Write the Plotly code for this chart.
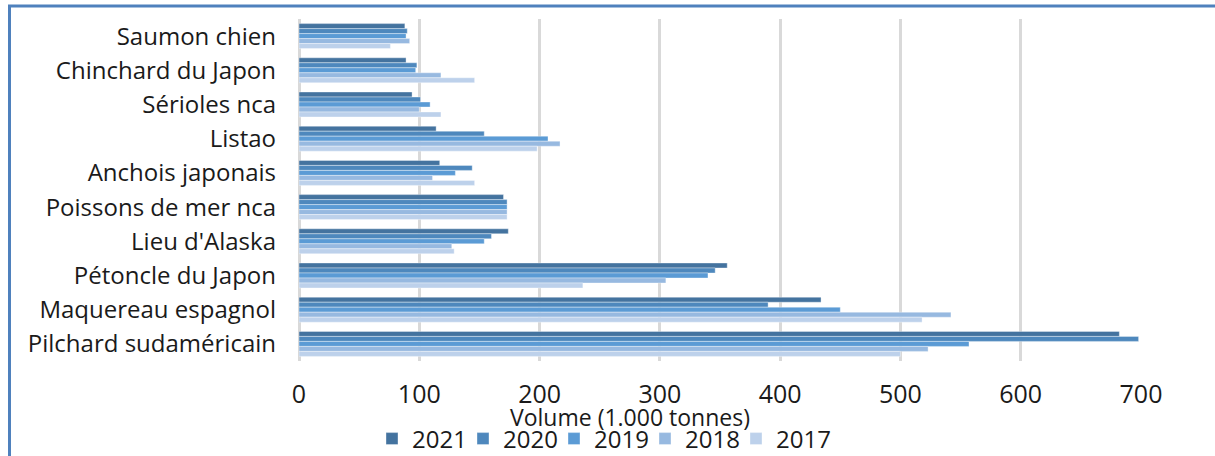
import plotly.graph_objects as go

categories = ["Saumon chien", "Chinchard du Japon", "Sérioles nca", "Listao",
              "Anchois japonais", "Poissons de mer nca", "Lieu d'Alaska",
              "Pétoncle du Japon", "Maquereau espagnol", "Pilchard sudaméricain"]

years = ["2021", "2020", "2019", "2018", "2017"]

v2021 = [88, 89, 94, 114, 117, 170, 174, 356, 434, 682]
v2020 = [90, 98, 101, 154, 144, 173, 160, 346, 390, 698]
v2019 = [89, 97, 109, 207, 130, 173, 154, 340, 450, 557]
v2018 = [92, 118, 100, 217, 111, 173, 127, 305, 542, 523]
v2017 = [76, 146, 118, 198, 146, 173, 129, 236, 518, 500]

series = [v2021, v2020, v2019, v2018, v2017]
colors = ["#44739f", "#4e88bd", "#5b9bd5", "#97b9e0", "#bdd1eb"]

x_ticks = [0, 100, 200, 300, 400, 500, 600, 700]

W, H = 1215, 456
L, R, T, B = 299, 74, 19, 95
pw, ph = W - L - R, H - T - B

def px_x(p):
    return (p - L) / pw

def px_y(p):
    return (H - B - p) / ph

FONT = "Open Sans"

legend_names = ["legend", "legend2", "legend3", "legend4", "legend5"]
legend_left_px = [372, 463, 554, 645, 736]

fig = go.Figure()
for name, vals, col, lg in zip(years, series, colors, legend_names):
    fig.add_trace(go.Bar(
        y=categories, x=vals, name=name, orientation="h", legend=lg,
        marker=dict(color=col, line=dict(color="rgba(255,255,255,0.6)", width=0.6)),
    ))

legend_layout = {}
for lg, lx in zip(legend_names, legend_left_px):
    legend_layout[lg] = dict(orientation="h", x=px_x(lx), y=px_y(439),
                             xanchor="left", yanchor="middle",
                             font=dict(size=24, family=FONT), itemwidth=30,
                             bgcolor="rgba(0,0,0,0)")

fig.update_layout(
    width=W, height=H,
    margin=dict(l=L, r=R, t=T, b=B, autoexpand=False),
    paper_bgcolor="white", plot_bgcolor="white",
    barmode="group", bargap=0.27, bargroupgap=0,
    font=dict(family=FONT, color="#1a1a1a", size=24),
    showlegend=True,
    xaxis=dict(range=[0, 700], tickvals=x_ticks, ticktext=[str(t) for t in x_ticks],
               showgrid=True, gridcolor="#d9d9d9", gridwidth=2.5,
               zeroline=True, zerolinecolor="#d9d9d9", zerolinewidth=2.5,
               showline=False, ticks="", ticklabelstandoff=16,
               tickfont=dict(size=25, family=FONT)),
    yaxis=dict(autorange="reversed", showgrid=False, showline=False, ticks="",
               ticklabelstandoff=22, tickfont=dict(size=24, family=FONT)),
    annotations=[dict(text="Volume (1.000 tonnes)", xref="paper", yref="paper",
                      x=px_x(630), y=px_y(417), xanchor="center", yanchor="middle",
                      showarrow=False, font=dict(size=23, family=FONT))],
    shapes=[
        dict(type="line", xref="paper", yref="paper", x0=px_x(8), x1=px_x(1215),
             y0=px_y(6), y1=px_y(6), line=dict(color="#4f81bd", width=3)),
        dict(type="line", xref="paper", yref="paper", x0=px_x(9.5), x1=px_x(9.5),
             y0=px_y(5), y1=px_y(456), line=dict(color="#4f81bd", width=3)),
    ],
    **legend_layout,
)

fig.write_html("out.html", config={"displayModeBar": False},
               post_script="document.body.style.margin='0';document.body.style.overflow='hidden';")
